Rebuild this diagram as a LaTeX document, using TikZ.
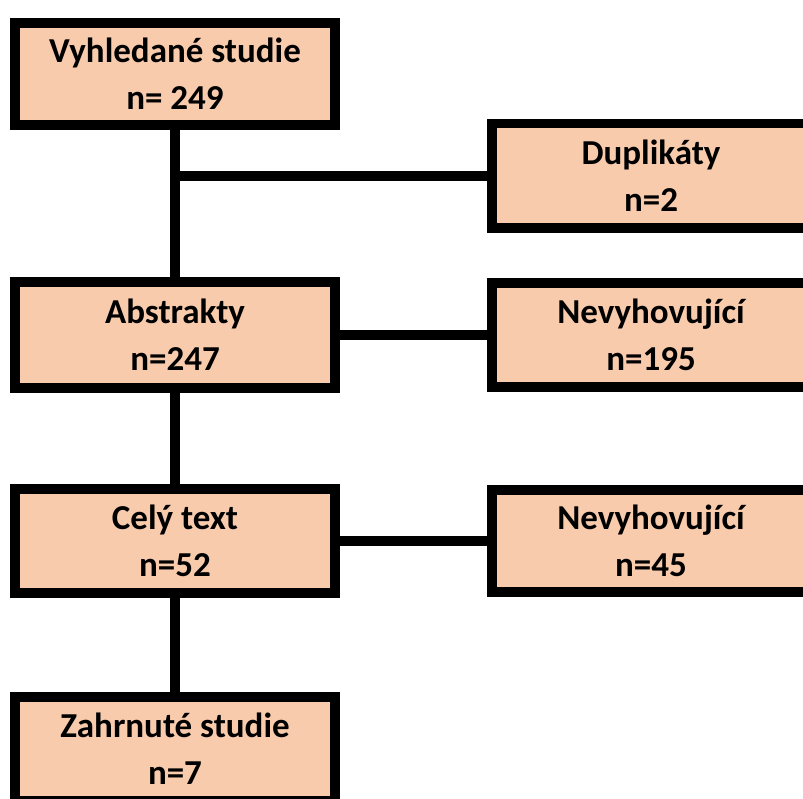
\documentclass[tikz,border=0pt]{standalone}
\usepackage{fontspec}
\setmainfont{Carlito}
\definecolor{boxfill}{HTML}{F8CBAD}
\begin{document}
\begin{tikzpicture}[x=1pt,y=-1pt,
  box/.style={draw=black, line width=9.5pt, fill=boxfill, rectangle,
    minimum width=320pt, minimum height=104pt, inner sep=0pt, align=center,
    font=\fontsize{35}{47}\selectfont\bfseries},
  link/.style={draw=black, line width=9.5pt}]
\useasboundingbox (0,0) rectangle (803,799);
\begin{scope}
\clip (0,0) rectangle (803,799);
\node[box, minimum height=102pt] (b1) at (175,74) {Vyhledané studie\\n= 249};
\node[box, minimum width=318pt, minimum height=104.5pt] (dup) at (651,176) {Duplikáty\\n=2};
\node[box, minimum height=106pt] (abs) at (175,335) {Abstrakty\\n=247};
\node[box, minimum width=318pt] (nev1) at (651,335) {Nevyhovující\\n=195};
\node[box] (cel) at (175,541) {Celý text\\n=52};
\node[box, minimum width=318pt, minimum height=102pt] (nev2) at (651,541) {Nevyhovující\\n=45};
\node[box] (zah) at (175,749) {Zahrnuté studie\\n=7};
\coordinate (j1) at (b1.south |- dup.west);
\draw[link] (b1.south) -- (abs.north);
\draw[link] (j1) -- (dup.west);
\draw[link] (abs.east) -- (nev1.west);
\draw[link] (abs.south) -- (cel.north);
\draw[link] (cel.east) -- (nev2.west);
\draw[link] (cel.south) -- (zah.north);
\end{scope}
\end{tikzpicture}
\end{document}
